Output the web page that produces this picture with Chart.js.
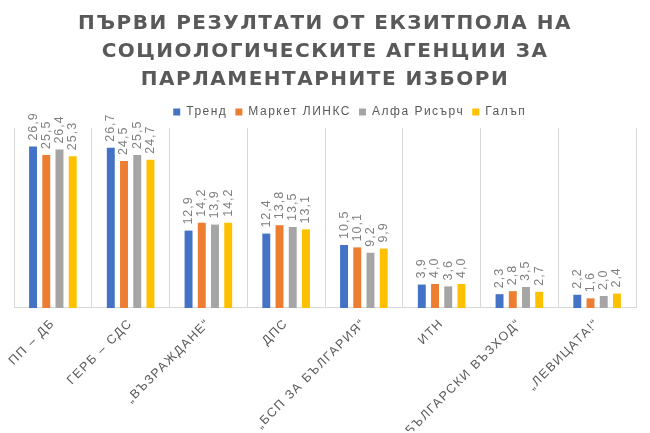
<!DOCTYPE html>
<html>
<head>
<meta charset="utf-8">
<script src="https://cdn.jsdelivr.net/npm/chart.js@4"></script>
<style>
  body { margin: 0; background: white; }
  #wrap { width: 650px; height: 433px; }
</style>
</head>
<body>
<div id="wrap"><canvas id="chart"></canvas></div>
<script>
// DATA //
const parties = ['ПП – ДБ', 'ГЕРБ – СДС', '„ВЪЗРАЖДАНЕ“', 'ДПС', '„БСП ЗА БЪЛГАРИЯ“', 'ИТН', '„БЪЛГАРСКИ ВЪЗХОД“', '„ЛЕВИЦАТА!“']
const trend  = [26.9, 26.7, 12.9, 12.4, 10.5, 3.9, 2.3, 2.2]
const market = [25.5, 24.5, 14.2, 13.8, 10.1, 4.0, 2.8, 1.6]
const alpha  = [26.4, 25.5, 13.9, 13.5, 9.2, 3.6, 3.5, 2.0]
const gallup = [25.3, 24.7, 14.2, 13.1, 9.9, 4.0, 2.7, 2.4]
const titleLines = ['ПЪРВИ РЕЗУЛТАТИ ОТ ЕКЗИТПОЛА НА', 'СОЦИОЛОГИЧЕСКИТЕ АГЕНЦИИ ЗА', 'ПАРЛАМЕНТАРНИТЕ ИЗБОРИ']

// RAZREDKA NA BUKVITE //
const spacing = {
    id: 'spacing',
    beforeInit(chart) { chart.ctx.letterSpacing = '1.5px' },
    beforeDraw(chart) { chart.ctx.letterSpacing = '1.5px' }
}

// ETIKETI NAD STOLBOVETE //
const valueLabels = {
    id: 'valueLabels',
    afterDatasetsDraw(chart) {
        const ctx = chart.ctx
        ctx.save()
        ctx.font = '12.5px "Liberation Sans", Arial'
        ctx.letterSpacing = '1px'
        ctx.fillStyle = '#7f7f7f'
        ctx.textAlign = 'left'
        ctx.textBaseline = 'middle'
        chart.data.datasets.forEach((ds, i) => {
            chart.getDatasetMeta(i).data.forEach((bar, j) => {
                ctx.save()
                ctx.translate(bar.x, bar.y - 6)
                ctx.rotate(-Math.PI / 2)
                ctx.fillText(ds.data[j].toFixed(1).replace('.', ','), 0, 0)
                ctx.restore()
            })
        })
        ctx.restore()
    }
}

new Chart(document.getElementById('chart'), {
    type: 'bar',
    data: {
        labels: parties,
        datasets: [
            { label: 'Тренд', data: trend, backgroundColor: '#4472c4' },
            { label: 'Маркет ЛИНКС', data: market, backgroundColor: '#ed7d31' },
            { label: 'Алфа Рисърч', data: alpha, backgroundColor: '#a5a5a5' },
            { label: 'Галъп', data: gallup, backgroundColor: '#ffc000' }
        ]
    },
    options: {
        responsive: true,
        maintainAspectRatio: false,
        animation: false,
        categoryPercentage: 0.68,
        barPercentage: 0.6,
        layout: { padding: { left: 14, right: 14, bottom: 2 } },
        scales: {
            x: {
                grid: { display: true, offset: true, color: '#d9d9d9', drawTicks: false },
                border: { color: '#d9d9d9' },
                ticks: {
                    color: '#595959',
                    font: { size: 12.5, family: '"Liberation Sans", Arial' },
                    minRotation: 45,
                    maxRotation: 45,
                    padding: 8
                }
            },
            y: {
                display: false,
                min: 0,
                max: 30
            }
        },
        plugins: {
            title: {
                display: true,
                text: titleLines,
                color: '#595959',
                font: { size: 20, weight: 'bold', family: '"DejaVu Sans", Arial', lineHeight: 1.4 },
                padding: { top: 10, bottom: 4 }
            },
            legend: {
                display: true,
                labels: {
                    color: '#595959',
                    font: { size: 12, family: '"Liberation Sans", Arial' },
                    boxWidth: 7,
                    boxHeight: 7,
                    padding: 8
                }
            },
            tooltip: { enabled: false }
        }
    },
    plugins: [spacing, valueLabels]
})
</script>
</body>
</html>
